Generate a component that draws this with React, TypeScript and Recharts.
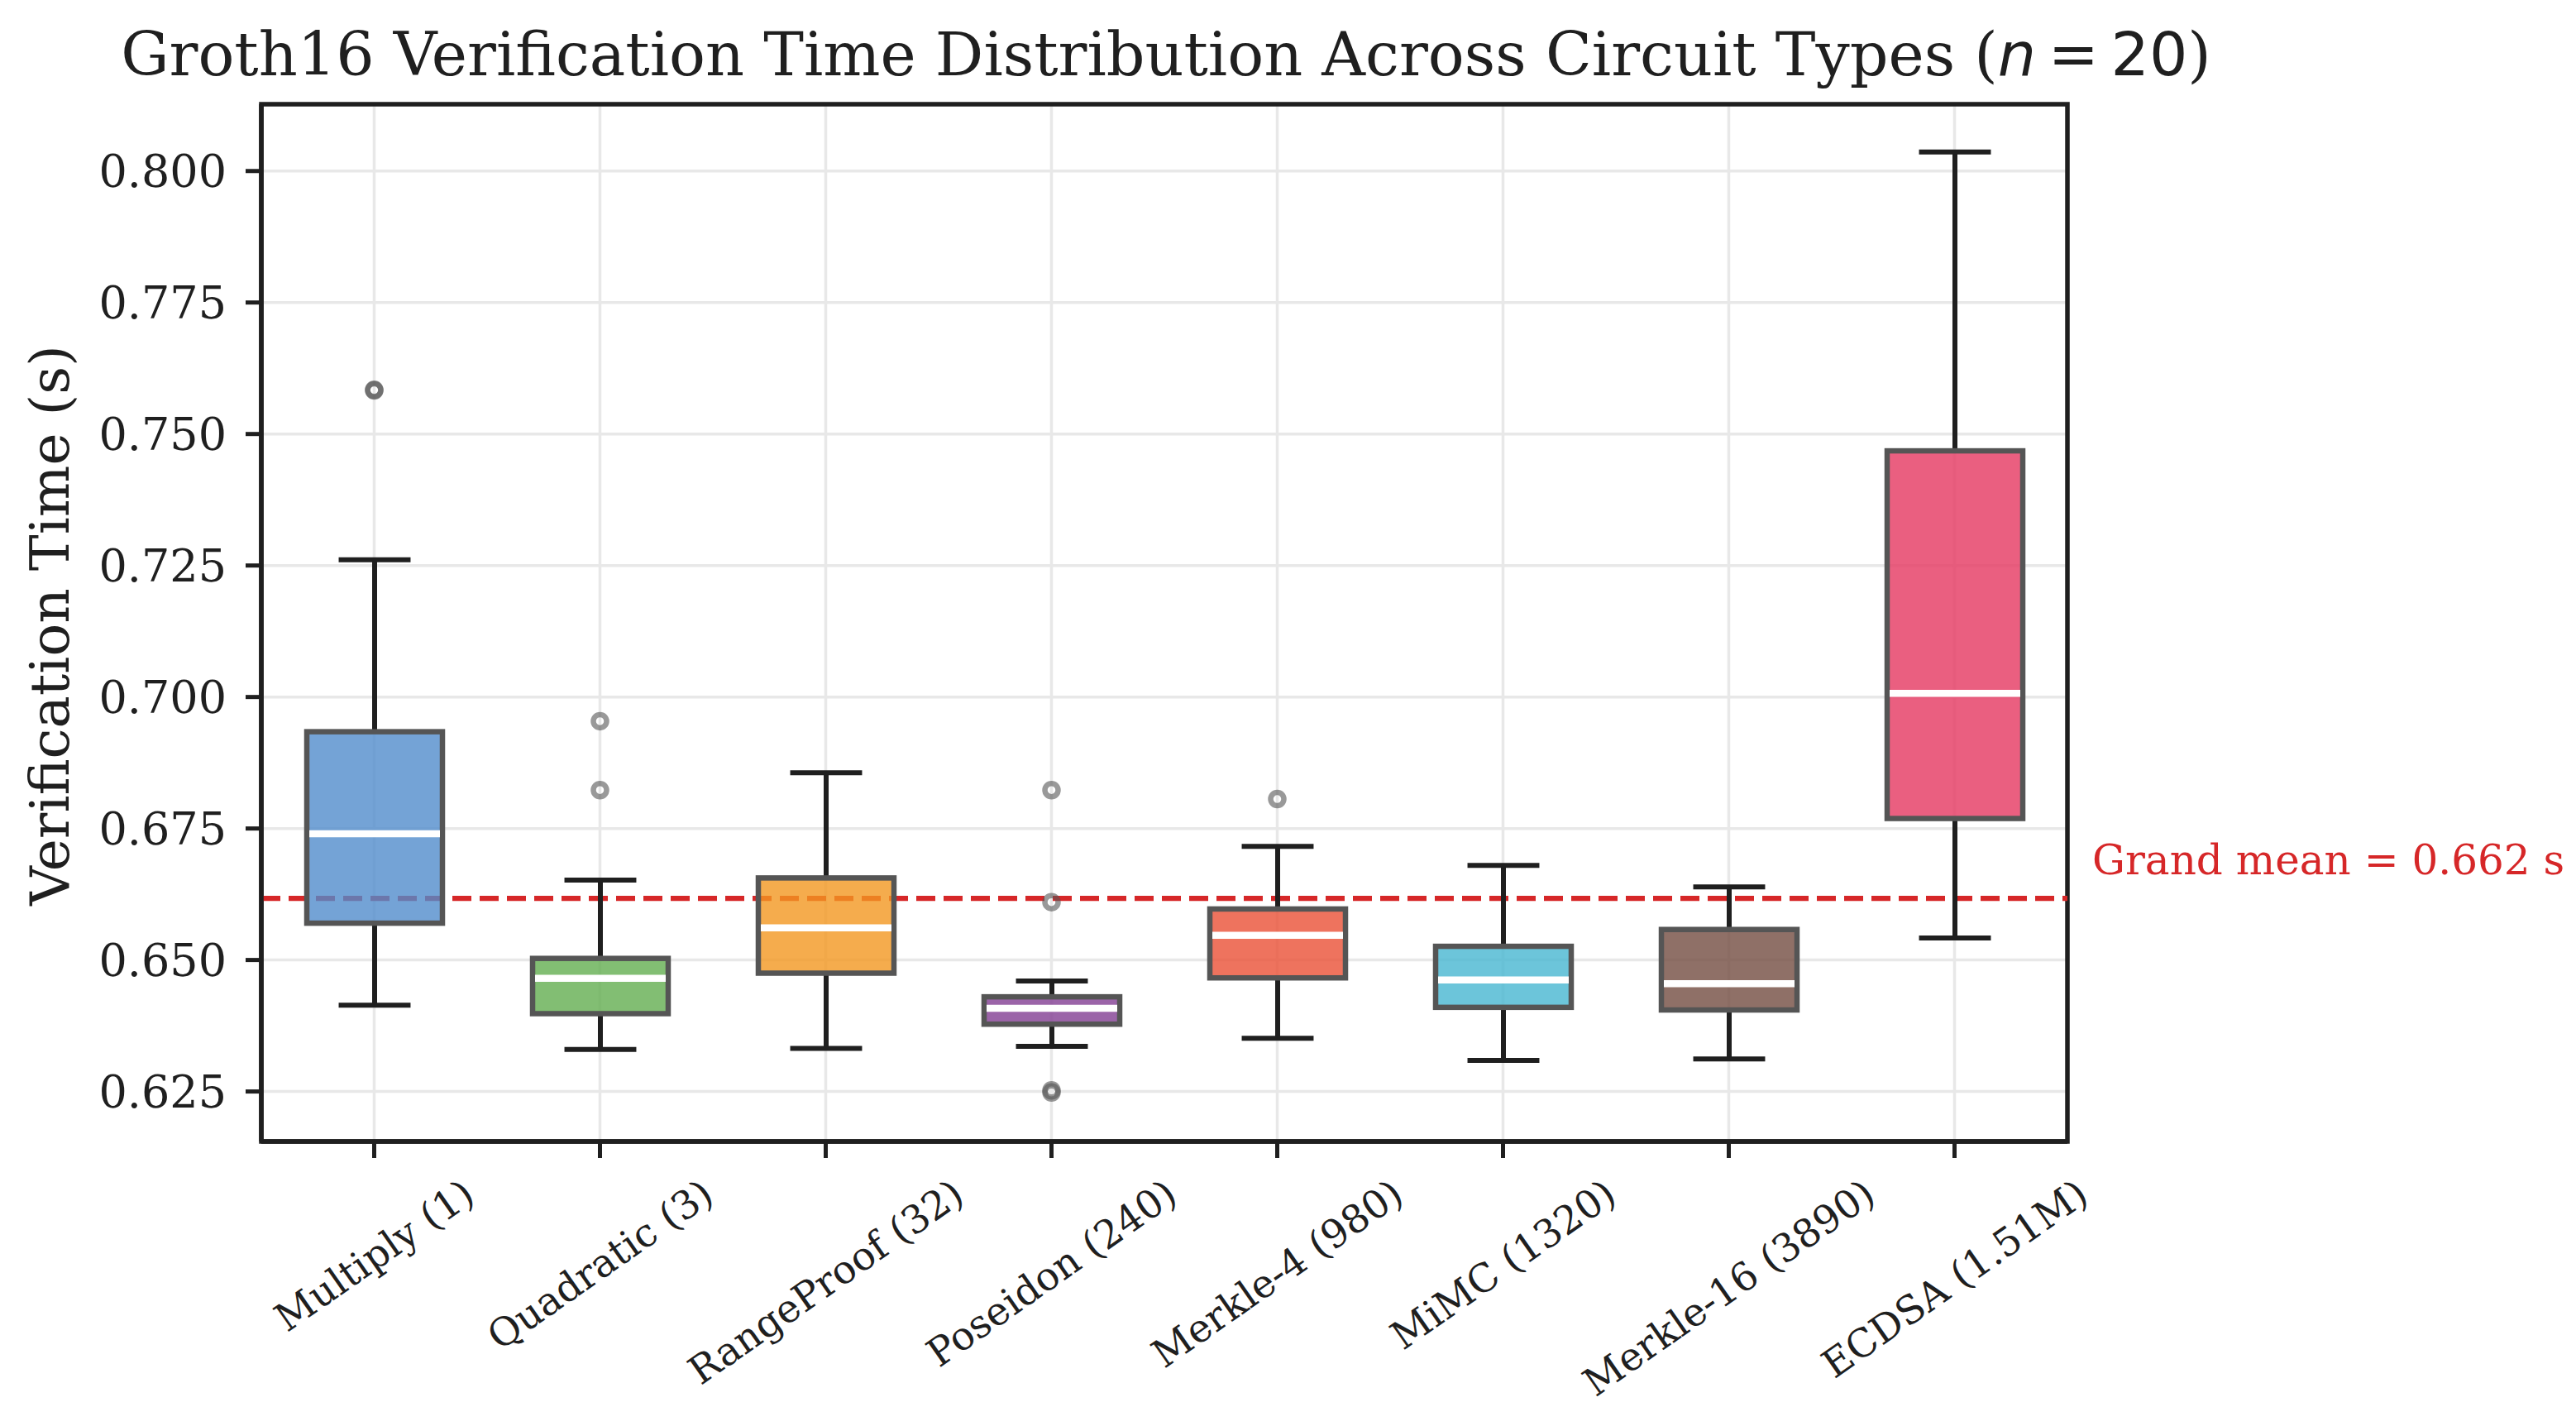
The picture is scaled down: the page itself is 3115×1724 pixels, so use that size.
import React from "react";
import {
  ComposedChart,
  Bar,
  Scatter,
  XAxis,
  YAxis,
  CartesianGrid,
  ReferenceLine,
  ReferenceArea,
} from "recharts";

// ---------------- data ----------------
const categories = [
  "Multiply (1)",
  "Quadratic (3)",
  "RangeProof (32)",
  "Poseidon (240)",
  "Merkle-4 (980)",
  "MiMC (1320)",
  "Merkle-16 (3890)",
  "ECDSA (1.51M)",
];
const whiskerLow = [0.6414, 0.633, 0.6332, 0.6336, 0.6351, 0.6309, 0.6312, 0.6542];
const q1 = [0.657, 0.6398, 0.6475, 0.6378, 0.6466, 0.641, 0.6405, 0.6769];
const median = [0.674, 0.6465, 0.6561, 0.6408, 0.6547, 0.6462, 0.6455, 0.7007];
const q3 = [0.6934, 0.6503, 0.6656, 0.643, 0.6597, 0.6526, 0.6558, 0.7468];
const whiskerHigh = [0.7261, 0.6652, 0.6856, 0.646, 0.6716, 0.668, 0.6639, 0.8036];
const outliers: number[][] = [
  [0.7583, 0.7584],
  [0.6954, 0.6823],
  [],
  [0.6823, 0.661, 0.6252, 0.6248],
  [0.6806],
  [],
  [],
  [],
];
const boxColors = ["#518ccc", "#63ae50", "#f29720", "#823d92", "#ea5036", "#47b6d1", "#734c41", "#e53760"];
const grandMean = 0.6617;
const yTicks = [0.625, 0.65, 0.675, 0.7, 0.725, 0.75, 0.775, 0.8];
const yDomain = [0.6155, 0.8127];

const data = categories.map((name, i) => ({
  name,
  whiskerLow: whiskerLow[i],
  q1: q1[i],
  median: median[i],
  q3: q3[i],
  whiskerHigh: whiskerHigh[i],
  color: boxColors[i],
  out1: outliers[i][0] ?? null,
  out2: outliers[i][1] ?? null,
  out3: outliers[i][2] ?? null,
  out4: outliers[i][3] ?? null,
}));

// ---------------- styling ----------------
const W = 3115;
const H = 1724;
const SERIF = '"DejaVu Serif", serif';
const SANS = '"DejaVu Sans", sans-serif';
const INK = "#1f1f1f";

let measureCtx: CanvasRenderingContext2D | null = null;
function measure(text: string, size: number) {
  if (!measureCtx) {
    const c = document.createElement("canvas");
    measureCtx = c.getContext("2d");
  }
  if (!measureCtx) return text.length * size * 0.55;
  measureCtx.font = `${size}px ${SERIF}`;
  return measureCtx.measureText(text).width;
}

function BoxShape(props: any) {
  const { x, y, width, height, payload } = props;
  if (payload == null || x == null || y == null) return <g />;
  const yTop = Math.min(y, y + height);
  const yBot = Math.max(y, y + height);
  const lo = payload.whiskerLow;
  const hi = payload.whiskerHigh;
  const py = (v: number) => yTop + ((hi - v) / (hi - lo)) * (yBot - yTop);
  const cx = x + width / 2;
  const capHalf = width * 0.265;
  return (
    <g>
      <line x1={cx} x2={cx} y1={py(payload.q3)} y2={py(hi)} stroke={INK} strokeWidth={6} />
      <line x1={cx} x2={cx} y1={py(payload.q1)} y2={py(lo)} stroke={INK} strokeWidth={6} />
      <line x1={cx - capHalf} x2={cx + capHalf} y1={py(hi)} y2={py(hi)} stroke={INK} strokeWidth={6} />
      <line x1={cx - capHalf} x2={cx + capHalf} y1={py(lo)} y2={py(lo)} stroke={INK} strokeWidth={6} />
      <rect
        x={x}
        y={py(payload.q3)}
        width={width}
        height={py(payload.q1) - py(payload.q3)}
        fill={payload.color}
        fillOpacity={0.8}
        stroke="#555555"
        strokeWidth={6.5}
      />
      <line
        x1={x + 3}
        x2={x + width - 3}
        y1={py(payload.median)}
        y2={py(payload.median)}
        stroke="#ffffff"
        strokeWidth={8.5}
      />
    </g>
  );
}

function makeOutlierShape(key: string) {
  return (props: any) => {
    const { cx, cy, payload } = props;
    if (!payload || payload[key] == null || cx == null || cy == null || isNaN(cy)) return <g />;
    return (
      <circle cx={cx} cy={cy} r={8} fill="none" stroke="#555555" strokeOpacity={0.6} strokeWidth={6.5} />
    );
  };
}

function XTick(props: any) {
  const { x, y, payload } = props;
  const text = String(payload.value);
  const F = 47;
  const L = measure(text, F);
  const a = (35 * Math.PI) / 180;
  const Hh = F * 1.1;
  const h = L * Math.sin(a) + Hh * Math.cos(a);
  const cy = y + h / 2;
  return (
    <text
      x={x}
      y={cy}
      textAnchor="middle"
      dominantBaseline="central"
      transform={`rotate(-35 ${x} ${cy})`}
      fontFamily={SERIF}
      fontSize={F}
      fill={INK}
    >
      {text}
    </text>
  );
}

function YTick(props: any) {
  const { x, y, payload } = props;
  return (
    <text x={x} y={y} dy="0.36em" textAnchor="end" fontFamily={SERIF} fontSize={54} fill={INK}>
      {Number(payload.value).toFixed(3)}
    </text>
  );
}

function YLabel(props: any) {
  const vb = props.viewBox || { x: 66, y: 126, width: 250, height: 1254 };
  const tx = vb.x + 17;
  const ty = vb.y + vb.height / 2 + 3;
  return (
    <text
      x={tx}
      y={ty}
      transform={`rotate(-90 ${tx} ${ty})`}
      textAnchor="middle"
      fontFamily={SERIF}
      fontSize={66}
      fill={INK}
    >
      Verification Time (s)
    </text>
  );
}

function MeanLabel(props: any) {
  const vb = props.viewBox || { x: 316, y: 1087, width: 2184, height: 0 };
  return (
    <text
      x={vb.x + vb.width + 30}
      y={vb.y - 29}
      fontFamily={SERIF}
      fontSize={50}
      fill="#d62728"
    >
      {`Grand mean = ${grandMean.toFixed(3)} s`}
    </text>
  );
}

export default function App() {
  return (
    <div style={{ position: "absolute", left: 0, top: 0, width: W, height: H, background: "#ffffff" }}>
      <ComposedChart
        width={W}
        height={H}
        data={data}
        margin={{ top: 126, right: 615, bottom: 44, left: 66 }}
        barCategoryGap={0}
      >
        <CartesianGrid stroke="#e8e8e8" strokeWidth={3.5} vertical horizontal />
        <XAxis
          dataKey="name"
          type="category"
          interval={0}
          height={300}
          tick={<XTick />}
          tickSize={20}
          tickMargin={16}
          axisLine={{ stroke: INK, strokeWidth: 5.5 }}
          tickLine={{ stroke: INK, strokeWidth: 5 }}
        />
        <YAxis
          type="number"
          domain={yDomain}
          allowDataOverflow
          ticks={yTicks}
          width={250}
          tick={<YTick />}
          tickSize={19}
          tickMargin={23}
          axisLine={{ stroke: INK, strokeWidth: 5.5 }}
          tickLine={{ stroke: INK, strokeWidth: 5 }}
          label={<YLabel />}
        />
        <ReferenceLine
          y={grandMean}
          stroke="#d62728"
          strokeWidth={6.25}
          strokeDasharray="23 10"
          label={<MeanLabel />}
          zIndex={250}
        />
        <Bar
          dataKey={(d: any) => [d.whiskerLow, d.whiskerHigh]}
          barSize={164}
          shape={<BoxShape />}
          isAnimationActive={false}
          activeBar={false}
        />
        <Scatter dataKey="out1" shape={makeOutlierShape("out1")} isAnimationActive={false} />
        <Scatter dataKey="out2" shape={makeOutlierShape("out2")} isAnimationActive={false} />
        <Scatter dataKey="out3" shape={makeOutlierShape("out3")} isAnimationActive={false} />
        <Scatter dataKey="out4" shape={makeOutlierShape("out4")} isAnimationActive={false} />
        <ReferenceArea
          y1={yDomain[0]}
          y2={yDomain[1]}
          fill="none"
          fillOpacity={0}
          stroke={INK}
          strokeWidth={5.5}
          ifOverflow="visible"
        />
      </ComposedChart>
      <svg
        width={W}
        height={125}
        style={{ position: "absolute", left: 0, top: 0, pointerEvents: "none" }}
      >
        <text x={1410} y={91} textAnchor="middle" fontFamily={SERIF} fontSize={73} fill={INK}>
          Groth16 Verification Time Distribution Across Circuit Types (
          <tspan fontFamily={SANS} fontStyle="italic">n</tspan>
          <tspan fontFamily={SANS}>{"\u2009=\u200920"}</tspan>)
        </text>
      </svg>
    </div>
  );
}
